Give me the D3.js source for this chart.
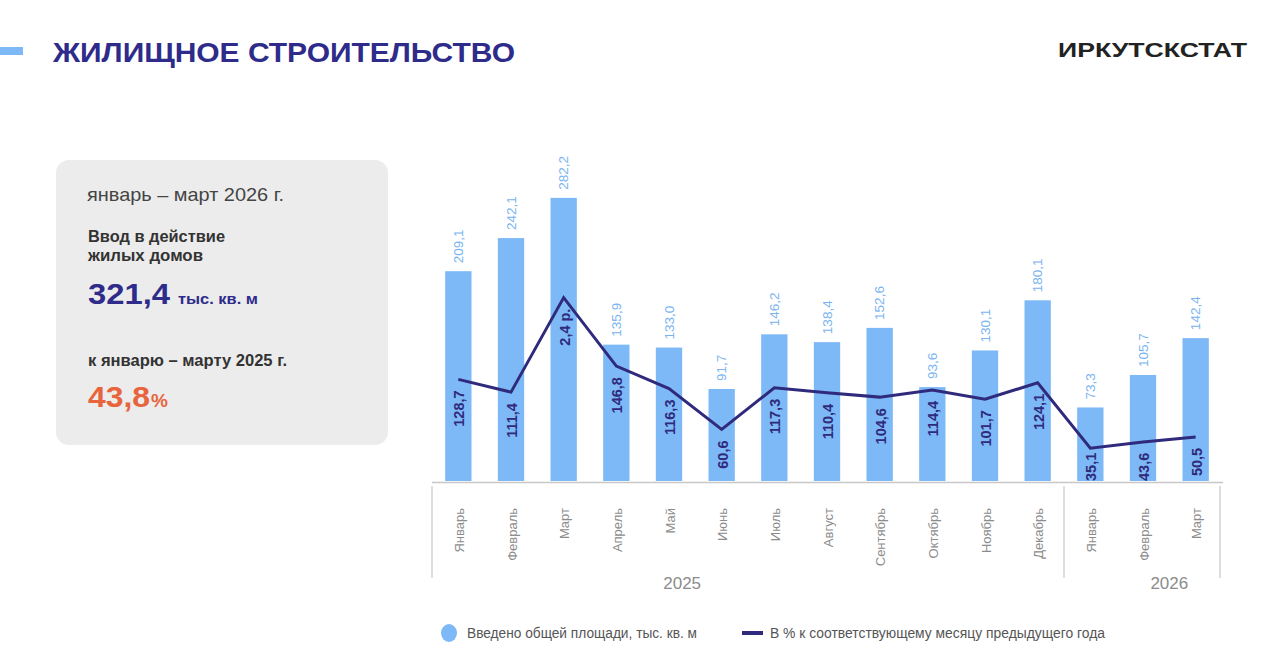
<!DOCTYPE html>
<html>
<head>
<meta charset="utf-8">
<script src="https://cdn.jsdelivr.net/npm/d3@7/dist/d3.min.js"></script>
<style>
  html, body { margin: 0; padding: 0; background: #fff; }
  svg { display: block; font-family: "Liberation Sans", Arial, sans-serif; }
</style>
</head>
<body>
<svg id="chart" width="1280" height="649"></svg>
<script>
// ---- data ----
const months = ["Январь","Февраль","Март","Апрель","Май","Июнь","Июль","Август","Сентябрь","Октябрь","Ноябрь","Декабрь","Январь","Февраль","Март"];
const years = ["2025", "2026"];
const yearMonthCounts = [12, 3];
const areaValues = [209.1, 242.1, 282.2, 135.9, 133.0, 91.7, 146.2, 138.4, 152.6, 93.6, 130.1, 180.1, 73.3, 105.7, 142.4];
const pctValues = [128.7, 111.4, 240, 146.8, 116.3, 60.6, 117.3, 110.4, 104.6, 114.4, 101.7, 124.1, 35.1, 43.6, 50.5];
const pctLabels = ["128,7","111,4","2,4 р.","146,8","116,3","60,6","117,3","110,4","104,6","114,4","101,7","124,1","35,1","43,6","50,5"];
const legendLabels = ["Введено общей площади, тыс. кв. м", "В % к соответствующему  месяцу предыдущего года"];

const fmt = v => v.toFixed(1).replace(".", ",");

const svg = d3.select("#chart");
const BAR = "#7db9f6", LINE = "#2f2a7c", GRAY = "#8c8c8c", AXIS = "#c8c8c8", INDIGO = "#2e2b8a";

// ---- header ----
svg.append("rect").attr("x", 0).attr("y", 47).attr("width", 23).attr("height", 8).attr("fill", BAR);
svg.append("text").attr("x", 53).attr("y", 62)
  .attr("font-size", 28).attr("font-weight", "bold").attr("fill", INDIGO)
  .attr("textLength", 462).attr("lengthAdjust", "spacingAndGlyphs")
  .text("ЖИЛИЩНОЕ СТРОИТЕЛЬСТВО");
svg.append("text").attr("x", 1058).attr("y", 57)
  .attr("font-size", 21).attr("font-weight", "bold").attr("fill", "#222")
  .attr("textLength", 189).attr("lengthAdjust", "spacingAndGlyphs")
  .text("ИРКУТСКСТАТ");

// ---- info panel ----
const panel = svg.append("g");
panel.append("rect").attr("x", 56).attr("y", 160).attr("width", 332).attr("height", 285)
  .attr("rx", 13).attr("fill", "#ececec");
panel.append("text").attr("x", 87).attr("y", 201).attr("font-size", 19).attr("fill", "#444")
  .attr("textLength", 197).attr("lengthAdjust", "spacingAndGlyphs").text("январь – март 2026 г.");
panel.append("text").attr("x", 88).attr("y", 242).attr("font-size", 16).attr("font-weight", "bold").attr("fill", "#333")
  .attr("textLength", 137).attr("lengthAdjust", "spacingAndGlyphs").text("Ввод в действие");
panel.append("text").attr("x", 88).attr("y", 261).attr("font-size", 16).attr("font-weight", "bold").attr("fill", "#333")
  .attr("textLength", 115).attr("lengthAdjust", "spacingAndGlyphs").text("жилых домов");
panel.append("text").attr("x", 88).attr("y", 304).attr("font-size", 30).attr("font-weight", "bold").attr("fill", INDIGO)
  .attr("textLength", 82).attr("lengthAdjust", "spacingAndGlyphs").text("321,4");
panel.append("text").attr("x", 178).attr("y", 304).attr("font-size", 14).attr("font-weight", "bold").attr("fill", INDIGO)
  .attr("textLength", 80).attr("lengthAdjust", "spacingAndGlyphs").text("тыс. кв. м");
panel.append("text").attr("x", 88).attr("y", 366).attr("font-size", 16).attr("font-weight", "bold").attr("fill", "#333")
  .attr("textLength", 199).attr("lengthAdjust", "spacingAndGlyphs").text("к январю – марту 2025 г.");
panel.append("text").attr("x", 88).attr("y", 407).attr("font-size", 30).attr("font-weight", "bold").attr("fill", "#e8643c")
  .attr("textLength", 62).attr("lengthAdjust", "spacingAndGlyphs").text("43,8");
panel.append("text").attr("x", 151).attr("y", 407).attr("font-size", 19).attr("font-weight", "bold").attr("fill", "#e8643c")
  .text("%");

// ---- scales ----
const idx = d3.range(months.length);
const x = d3.scaleBand().domain(idx).range([432, 1222]).paddingInner(0.5).paddingOuter(0.25);
const y = d3.scaleLinear().domain([0, 300]).range([481, 180]);
const y2 = d3.scaleLinear().domain([0, 400]).range([474, 180]);
const cx = i => x(i) + x.bandwidth() / 2;
const step = x.step();
const left = x.range()[0];

// ---- bars ----
svg.append("g").selectAll("rect").data(areaValues).join("rect")
  .attr("x", (d, i) => x(i)).attr("width", x.bandwidth())
  .attr("y", d => y(d)).attr("height", d => y(0) - y(d))
  .attr("fill", BAR);

// bar value labels
svg.append("g").selectAll("text").data(areaValues).join("text")
  .attr("transform", (d, i) => `translate(${cx(i)},${y(d) - 8}) rotate(-90)`)
  .attr("dy", "0.35em").attr("text-anchor", "start")
  .attr("font-size", 13.5).attr("fill", "#7ab4ef")
  .text(d => fmt(d));

// axis baseline
svg.append("line").attr("x1", left).attr("x2", x.range()[1] + 1)
  .attr("y1", 482.5).attr("y2", 482.5).attr("stroke", AXIS).attr("stroke-width", 1.5);

// group separators
let acc = 0;
const bounds = [0];
yearMonthCounts.forEach(c => { acc += c; bounds.push(acc); });
svg.append("g").selectAll("line").data(bounds).join("line")
  .attr("x1", b => left + b * step - (b === months.length ? 2 : 0))
  .attr("x2", b => left + b * step - (b === months.length ? 2 : 0))
  .attr("y1", 486).attr("y2", 578).attr("stroke", AXIS).attr("stroke-width", 1.2);

// month labels
svg.append("g").selectAll("text").data(months).join("text")
  .attr("transform", (d, i) => `translate(${cx(i) + 1},508) rotate(-90)`)
  .attr("dy", "0.35em").attr("text-anchor", "end")
  .attr("font-size", 13).attr("fill", GRAY)
  .text(d => d);

// year labels
const yearPos = [4.75, 14];
svg.append("g").selectAll("text").data(years).join("text")
  .attr("x", (d, i) => left + yearPos[i] * step).attr("y", 589)
  .attr("text-anchor", "middle").attr("font-size", 17).attr("fill", GRAY)
  .text(d => d);

// ---- line ----
const line = d3.line().x((d, i) => cx(i)).y(d => y2(d));
svg.append("path").datum(pctValues).attr("d", line)
  .attr("fill", "none").attr("stroke", LINE).attr("stroke-width", 3).attr("stroke-linejoin", "miter");

svg.append("g").selectAll("text").data(pctValues).join("text")
  .attr("dy", "0.35em").attr("text-anchor", "end")
  .attr("font-size", 14.5).attr("font-weight", "bold").attr("fill", LINE)
  .text((d, i) => pctLabels[i])
  .attr("transform", function (d, i) {
    const len = this.getComputedTextLength();
    const top = Math.min(y2(d) + 11, y(0) - len);
    return `translate(${cx(i) + 1},${top}) rotate(-90)`;
  });

// ---- legend ----
const lg = svg.append("g");
lg.append("ellipse").attr("cx", 449).attr("cy", 633).attr("rx", 8).attr("ry", 9).attr("fill", BAR);
lg.append("text").attr("x", 467).attr("y", 638).attr("font-size", 14).attr("fill", "#555")
  .attr("textLength", 230).attr("lengthAdjust", "spacingAndGlyphs").text(legendLabels[0]);
lg.append("line").attr("x1", 742).attr("x2", 763).attr("y1", 633).attr("y2", 633)
  .attr("stroke", LINE).attr("stroke-width", 4);
lg.append("text").attr("x", 770).attr("y", 638).attr("font-size", 14).attr("fill", "#555")
  .attr("textLength", 335).attr("lengthAdjust", "spacingAndGlyphs").text(legendLabels[1]);
</script>
</body>
</html>
